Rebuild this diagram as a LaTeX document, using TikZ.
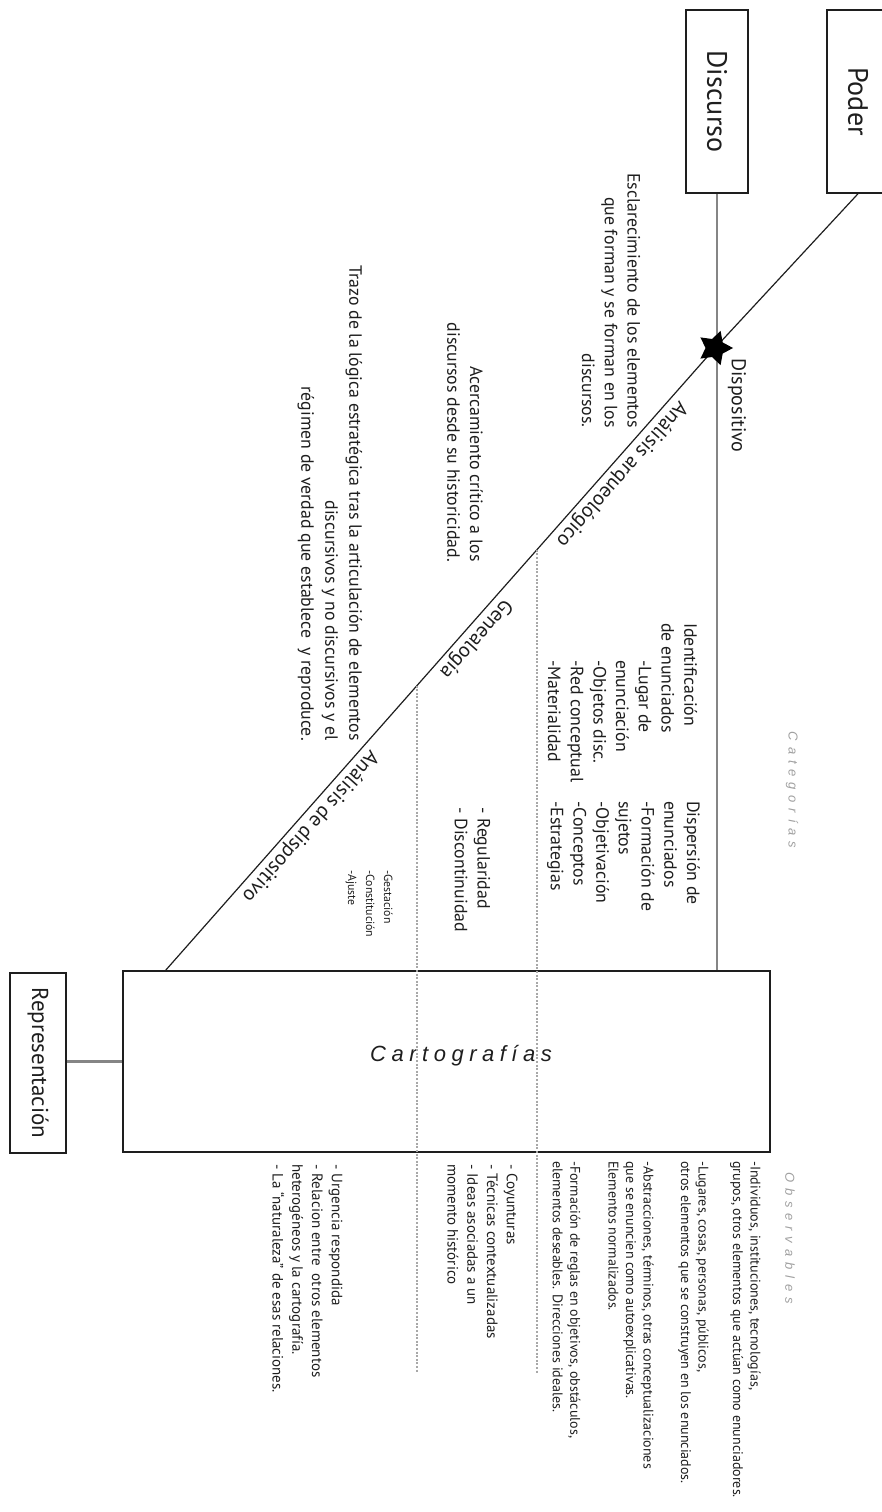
\documentclass[tikz,border=0pt]{standalone}
\usepackage{fontspec}
\setmainfont{PT Sans}
\newfontfamily\spacedfont[LetterSpace=25]{Liberation Sans}
\newfontfamily\widefont[LetterSpace=45]{Liberation Sans}
\usetikzlibrary{shapes.geometric}
\definecolor{ink}{HTML}{1E1E1E}
\definecolor{linegrey}{HTML}{858585}
\definecolor{dotgrey}{HTML}{A8A8A8}
\definecolor{labelgrey}{HTML}{A0A0A0}

\begin{document}
\begin{tikzpicture}[x=1pt,y=-1pt,
    box/.style={draw=ink,line width=1.5pt,rotate=-90,inner sep=0pt,text=ink,
      minimum width=183pt,minimum height=62pt,font=\fontsize{28}{32}\selectfont},
    txt/.style={rotate=-90,inner sep=0pt,text=ink,font=\fontsize{17.8}{22.7}\selectfont},
    obs/.style={txt,align=left,anchor=west,font=\fontsize{14}{17.5}\selectfont},
    diag/.style={sloped,allow upside down,above=3pt,inner sep=0pt,text=ink,
      font=\fontsize{20.5}{23}\selectfont},
    dots/.style={draw=dotgrey,line width=1.4pt,dash pattern=on 2pt off 1.6pt},
    axislab/.style={rotate=-90,text=labelgrey,font=\widefont\itshape\fontsize{13}{15}\selectfont}]
  \useasboundingbox (0,0) rectangle (881,1512);

  % boxes
  \node[box] (poder) at (858,101.5) {Poder};
  \node[box] (disc) at (717,101.5) {Discurso};
  \node[box,minimum width=180pt,minimum height=56pt,font=\fontsize{23}{27}\selectfont]
    (repr) at (38,1063) {Representación};
  \node[draw=ink,line width=1.6pt,minimum width=647pt,minimum height=181pt,inner sep=0pt]
    (carto) at (446.5,1061.5) {};
  \node[text=ink,inner sep=0pt,font=\spacedfont\itshape\fontsize{22}{26}\selectfont]
    (cartolab) at (461,1056) {Cartografías};

  % lines
  \coordinate (disp) at (715,348);
  \coordinate (foot) at (165,971);
  \draw[draw=linegrey,line width=2.2pt] (disc.east) -- (disc.east |- carto.north);
  \draw[draw=linegrey,line width=2.2pt] (carto.west -| repr.north) -- (carto.west);
  \draw[ink,line width=1.2pt] (poder.east) -- (disp);
  \draw[ink,line width=1.2pt] (disp) -- (foot)
    node[diag,pos=0.188] (arq) {Análisis arqueológico}
    node[diag,pos=0.453] (gen) {Genealogía}
    node[diag,pos=0.754] (adisp) {Análisis de dispositivo};
  \node[star,star points=5,star point ratio=1.9,fill=black,minimum size=36pt,
    inner sep=0pt,shape border rotate=-90] (star) at (disp) {};
  \node[txt,anchor=west,font=\fontsize{20}{24}\selectfont] (displab) at (737,358) {Dispositivo};

  % dotted guides
  \path (disp) -- (foot) coordinate[pos=0.324] (cut1) coordinate[pos=0.542] (cut2);
  \draw[dots] (cut1) -- (cut1 |- 0,1373);
  \draw[dots] (cut2) -- (cut2 |- 0,1373);

  % descriptions
  \node[txt,align=right,anchor=east] (eclar) at (611,428)
    {Esclarecimiento de los elementos\\que forman y se forman en los\\discursos.};
  \node[txt,align=right,anchor=east] (acerc) at (465,562)
    {Acercamiento crítico a los\\discursos desde su historicidad.};
  \node[txt,align=right,anchor=east,font=\fontsize{17.8}{24}\selectfont] (trazo) at (330,741)
    {Trazo de la lógica estratégica tras la articulación de elementos\\discursivos y no discursivos y el\\régimen de verdad que establece\ \ y reproduce.};

  % categorias
  \node[axislab] (categ) at (792,790) {Categorías};
  \node[txt,align=left,anchor=west] (ident) at (622.5,623)
    {Identificación\\de enunciados\\\hspace*{37pt}-Lugar de\\\hspace*{37pt}enunciación\\\hspace*{37pt}-Objetos disc.\\\hspace*{37pt}-Red conceptual\\\hspace*{37pt}-Materialidad};
  \node[txt,align=left,anchor=west] (disper) at (623.5,801)
    {Dispersión de\\enunciados\\-Formación de\\sujetos\\-Objetivación\\-Conceptos\\-Estrategias};
  \node[txt,align=left,anchor=west] (regul) at (472.5,807) {- Regularidad\\- Discontinuidad};
  \node[obs,font=\fontsize{11.8}{18}\selectfont] (gesta) at (369,870)
    {-Gestación\\-Constitución\\-Ajuste};

  % observables
  \node[axislab] (observ) at (790,1238) {Observables};
  \node[obs] (obsa) at (745.5,1161)
    {-Individuos, instituciones, tecnologías,\\grupos, otros elementos que actúan como enunciadores.};
  \node[obs] (obsb) at (693.5,1161)
    {-Lugares, cosas, personas, públicos,\\otros elementos que se construyen en los enunciados.};
  \node[obs] (obsc) at (631,1161)
    {-Abstracciones, términos, otras conceptualizaciones\\que se enuncien como autoexplicativas.\\Elementos normalizados.};
  \node[obs] (obsd) at (566.5,1161)
    {-Formación de reglas en objetivos, obstáculos,\\elementos deseables. Direcciones ideales.};
  \node[obs,font=\fontsize{15}{19.7}\selectfont] (obse) at (482.5,1164)
    {- Coyunturas\\- Técnicas contextualizadas\\- Ideas asociadas a un\\momento histórico};
  \node[obs,font=\fontsize{15}{19.7}\selectfont] (obsf) at (307.5,1164)
    {- Urgencia respondida\\- Relacion entre\ \ otros elementos\\heterogéneos y la cartografía.\\- La “naturaleza” de esas relaciones.};
\end{tikzpicture}
\end{document}
